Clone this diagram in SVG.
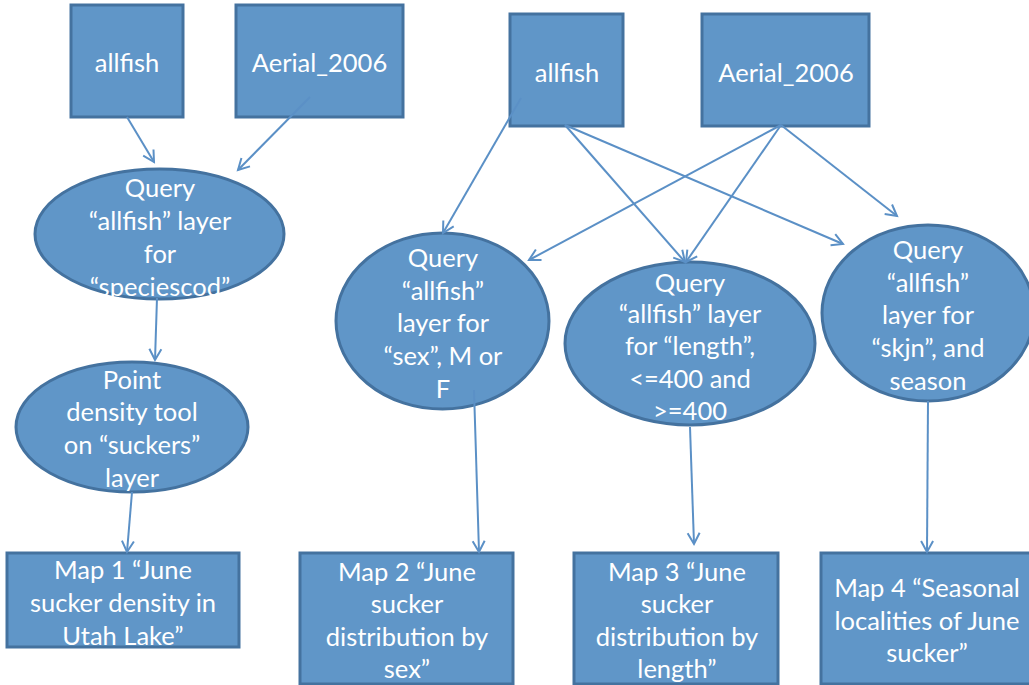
<svg xmlns="http://www.w3.org/2000/svg" width="1029" height="685" viewBox="0 0 1029 685">
  <defs>
    <marker id="arrow" markerUnits="userSpaceOnUse" markerWidth="16" markerHeight="16" viewBox="-1 -8 14 16" refX="11" refY="0" orient="auto">
      <path d="M0,-6 L11,0 L0,6" fill="none" stroke="#5b90c6" stroke-width="2"/>
    </marker>
  </defs>
  <style>
    .shape { fill: #6096c8; stroke: #44729f; stroke-width: 3; }
    .lbl { font-family: Lato, "Open Sans", "Liberation Sans", sans-serif; font-size: 25.5px; fill: #ffffff; text-anchor: middle; dominant-baseline: central; }
    .edge { stroke: #5b90c6; stroke-width: 2; fill: none; marker-end: url(#arrow); }
  </style>
  <rect width="1029" height="685" fill="#ffffff"/>

  <!-- input layers, left workflow -->
  <g id="allfish-1">
    <rect class="shape" x="71" y="5" width="112" height="112"/>
    <text class="lbl" x="127" y="62">allfish</text>
  </g>
  <g id="aerial-1">
    <rect class="shape" x="236" y="5" width="167" height="112"/>
    <text class="lbl" x="319.5" y="62">Aerial_2006</text>
  </g>

  <!-- input layers, right workflow -->
  <g id="allfish-2">
    <rect class="shape" x="510" y="14" width="113" height="112"/>
    <text class="lbl" x="567" y="72">allfish</text>
  </g>
  <g id="aerial-2">
    <rect class="shape" x="702" y="14" width="167" height="112"/>
    <text class="lbl" x="786" y="72">Aerial_2006</text>
  </g>

  <!-- processing steps -->
  <g id="query-species">
    <ellipse class="shape" cx="159.5" cy="234" rx="124.5" ry="65"/>
    <text class="lbl" x="160"><tspan x="160" y="187">Query</tspan><tspan x="160" y="220">“allfish” layer</tspan><tspan x="160" y="253">for</tspan><tspan x="160" y="286">“speciescod”</tspan></text>
  </g>
  <g id="point-density">
    <ellipse class="shape" cx="132" cy="427" rx="116" ry="65"/>
    <text class="lbl" x="132"><tspan x="132" y="379">Point</tspan><tspan x="132" y="411">density tool</tspan><tspan x="132" y="444">on “suckers”</tspan><tspan x="132" y="477">layer</tspan></text>
  </g>
  <g id="query-sex">
    <ellipse class="shape" cx="442.5" cy="321" rx="106.5" ry="88"/>
    <text class="lbl" x="443"><tspan x="443" y="257">Query</tspan><tspan x="443" y="290">“allfish”</tspan><tspan x="443" y="322">layer for</tspan><tspan x="443" y="355">“sex”, M or</tspan><tspan x="443" y="388">F</tspan></text>
  </g>
  <g id="query-length">
    <ellipse class="shape" cx="690" cy="343.5" rx="125" ry="81.5"/>
    <text class="lbl" x="690"><tspan x="690" y="282">Query</tspan><tspan x="690" y="313">“allfish” layer</tspan><tspan x="690" y="345">for “length”,</tspan><tspan x="690" y="378">&lt;=400 and</tspan><tspan x="690" y="410">&gt;=400</tspan></text>
  </g>
  <g id="query-skjn">
    <ellipse class="shape" cx="928" cy="313" rx="106" ry="88"/>
    <text class="lbl" x="928"><tspan x="928" y="249">Query</tspan><tspan x="928" y="282">“allfish”</tspan><tspan x="928" y="314">layer for</tspan><tspan x="928" y="347">“skjn”, and</tspan><tspan x="928" y="380">season</tspan></text>
  </g>

  <!-- output maps -->
  <g id="map-1">
    <rect class="shape" x="7" y="553" width="232" height="94"/>
    <text class="lbl" x="123"><tspan x="123" y="569">Map 1 “June</tspan><tspan x="123" y="602">sucker density in</tspan><tspan x="123" y="635">Utah Lake”</tspan></text>
  </g>
  <g id="map-2">
    <rect class="shape" x="300" y="553" width="213" height="131"/>
    <text class="lbl" x="407"><tspan x="407" y="571">Map 2 “June</tspan><tspan x="407" y="603">sucker</tspan><tspan x="407" y="636">distribution by</tspan><tspan x="407" y="668">sex”</tspan></text>
  </g>
  <g id="map-3">
    <rect class="shape" x="574" y="553" width="204" height="131"/>
    <text class="lbl" x="677"><tspan x="677" y="571">Map 3 “June</tspan><tspan x="677" y="603">sucker</tspan><tspan x="677" y="636">distribution by</tspan><tspan x="677" y="668">length”</tspan></text>
  </g>
  <g id="map-4">
    <rect class="shape" x="821" y="553" width="212" height="131"/>
    <text class="lbl" x="927"><tspan x="927" y="587">Map 4 “Seasonal</tspan><tspan x="927" y="620">localities of June</tspan><tspan x="927" y="652">sucker”</tspan></text>
  </g>

  <!-- connectors -->
  <g id="connectors">
    <line class="edge" x1="127" y1="117" x2="154" y2="162"/>
    <line class="edge" x1="310" y1="97" x2="238" y2="170"/>
    <line class="edge" x1="157" y1="298" x2="155" y2="360"/>
    <line class="edge" x1="132" y1="492" x2="127" y2="552"/>
    <line class="edge" x1="521" y1="98" x2="443" y2="233"/>
    <line class="edge" x1="565" y1="125" x2="685" y2="262"/>
    <line class="edge" x1="565" y1="125" x2="843" y2="244"/>
    <line class="edge" x1="781" y1="125" x2="529" y2="260"/>
    <line class="edge" x1="781" y1="125" x2="686" y2="262"/>
    <line class="edge" x1="781" y1="125" x2="897" y2="216"/>
    <line class="edge" x1="474" y1="390" x2="479" y2="552"/>
    <line class="edge" x1="690" y1="427" x2="694" y2="544"/>
    <line class="edge" x1="928" y1="401" x2="927" y2="552"/>
  </g>
</svg>
